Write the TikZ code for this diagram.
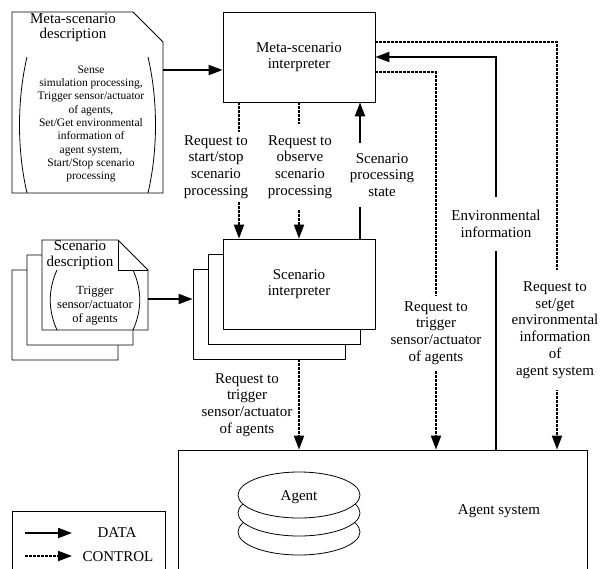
\documentclass[tikz,border=0pt]{standalone}
\usepackage{fontspec}
\setmainfont{Liberation Serif}
\usetikzlibrary{arrows.meta}

\tikzset{
  data/.style={line width=2pt,-{Triangle[length=14pt,width=10pt]}},
  control/.style={line width=2pt,dash pattern=on 2.5pt off 1.5pt,-{Triangle[length=14pt,width=10pt]}},
  docline/.style={line width=0.8pt},
  box/.style={draw,line width=0.8pt,fill=white,minimum width=152pt,minimum height=90pt,inner sep=0pt},
  lbl/.style={fill=white,inner xsep=2pt},
  smalltext/.style={font=\fontsize{11.5}{13.3}\selectfont},
  doctext/.style={font=\fontsize{12.5}{14}\selectfont}
}

\begin{document}
\begin{tikzpicture}[x=1pt,y=-1pt,
    every node/.style={align=center,font=\fontsize{15}{16.7}\selectfont}]
  \useasboundingbox (0,0) rectangle (600,568);
  \clip (0,0) rectangle (600,568);

  % meta-scenario description
  \draw[docline] (12,12) -- (133,12) -- (163,42) -- (163,193) -- (12,193) -- cycle;
  \draw[docline] (27,57) .. controls (17,100) and (17,150) .. (27,193);
  \draw[docline] (148,57) .. controls (158,100) and (158,150) .. (148,193);
  \node[font=\fontsize{15}{15}\selectfont] (metatitle) at (73,28) {Meta-scenario\\description};
  \node[smalltext] (metabody) at (91,124) {Sense\\simulation processing,\\Trigger sensor/actuator\\of agents,\\Set/Get environmental\\information of\\agent system,\\Start/Stop scenario\\processing};
  \coordinate (metadoc) at (163,70);

  % scenario description (stacked)
  \foreach \d in {30,15,0} {
    \draw[docline,fill=white,shift={(-\d,\d)}] (42,240) -- (118,240) -- (148,270) -- (148,330) -- (42,330) -- cycle;
  }
  \draw[docline] (118,240) -- (118,270) -- (148,270);
  \draw[docline] (57,270) .. controls (48,290) and (48,310) .. (57,330);
  \draw[docline] (133,270) .. controls (142,290) and (142,310) .. (133,330);
  \node[font=\fontsize{15}{16}\selectfont] (scntitle) at (80,255) {Scenario\\description};
  \node[doctext] (scnbody) at (95,306) {Trigger\\sensor/actuator\\of agents};
  \coordinate (scndoc) at (148,299);

  % interpreters
  \node[box] (metaint) at (299,57) {Meta-scenario\\interpreter};
  \node[box] (scnint3) at (269,314) {};
  \node[box] (scnint2) at (284,299) {};
  \node[box] (scnint) at (299,284) {Scenario\\interpreter};

  % agent system
  \node[box,minimum width=409pt,minimum height=150pt] (sysag) at (382.5,525) {};
  \node (lblsys) at (499,511) {Agent system};
  \foreach \yy in {532,513,495} {
    \draw[docline,fill=white] (299,\yy) ellipse [x radius=61, y radius=23];
  }
  \node (agent) at (299,497) {Agent};

  % columns
  \coordinate (coltrig) at (436,0);
  \coordinate (colenv) at (496,0);
  \coordinate (colset) at (557,0);

  % connectors
  \draw[data] (metadoc) -- (metadoc -| metaint.west);
  \draw[data] (scndoc) -- (scndoc -| scnint3.west);
  \draw[control] ([xshift=-60pt]metaint.south) -- ([xshift=-60pt]scnint.north);
  \draw[control] (metaint.south) -- (scnint.north);
  \draw[data] ([xshift=61pt]scnint.north) -- ([xshift=61pt]metaint.south);
  \draw[control] (scnint3.south -| scnint.north) -- (sysag.north -| scnint.north);
  \draw[control] ([yshift=15pt]metaint.east) -| (sysag.north -| colset);
  \draw[control] ([yshift=-15pt]metaint.east) -| (sysag.north -| coltrig);
  \draw[data] (sysag.north -| colenv) |- (metaint.east);

  % labels
  \node[lbl,inner ysep=3pt] (lblstart) at (216,167) {Request to\\start/stop\\scenario\\processing};
  \node[lbl,inner ysep=11pt] (lblobs) at (300,167) {Request to\\observe\\scenario\\processing};
  \node[lbl,inner ysep=10pt] (lblstate) at (382,175) {Scenario\\processing\\state};
  \node[lbl,inner ysep=13pt] (lblenv) at (496,224) {Environmental\\information};
  \node[lbl,inner ysep=5pt] (lbltrig) at (436,333) {Request to\\trigger\\sensor/actuator\\of agents};
  \node[lbl,inner ysep=12pt] (lblset) at (555,330) {Request to\\set/get\\environmental\\information\\of\\agent system};
  \node (lblscntrig) at (247,405) {Request to\\trigger\\sensor/actuator\\of agents};

  % legend
  \node[box,minimum width=153pt,minimum height=100pt] (lgd) at (88.5,561) {};
  \coordinate (lgdA) at (25,533);
  \coordinate (lgdB) at (25,556);
  \draw[data] (lgdA) -- ++(47,0);
  \draw[control] (lgdB) -- ++(47,0);
  \node (lgddata) at (117,533) {DATA};
  \node (lgdctrl) at (118,557) {CONTROL};
\end{tikzpicture}
\end{document}
